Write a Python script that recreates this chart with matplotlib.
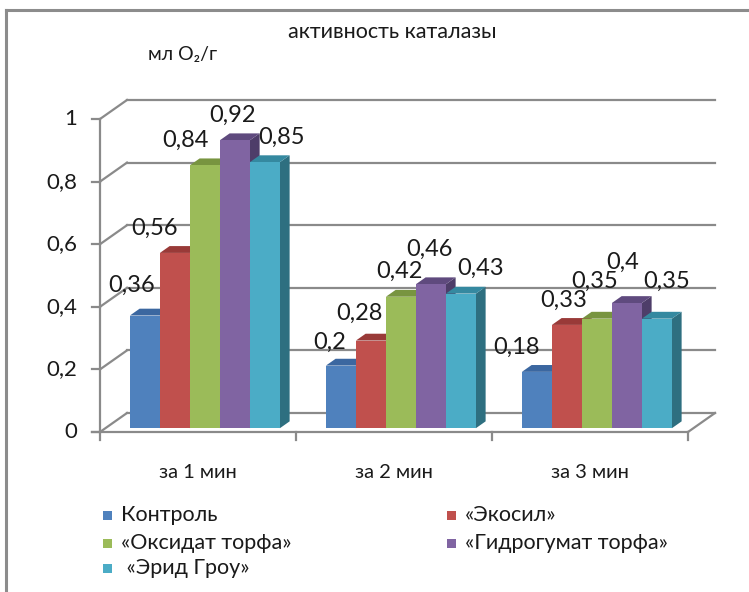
import matplotlib
matplotlib.use("Agg")
import matplotlib.pyplot as plt
from matplotlib.patches import Polygon

plt.rcParams['font.family'] = ['Lato', 'DejaVu Sans']

# ---- data ----
title = "активность каталазы"
unit_label = "мл O₂/г"
categories = ["за 1 мин", "за 2 мин", "за 3 мин"]
series_names = ["Контроль", "«Экосил»", "«Оксидат торфа»", "«Гидрогумат торфа»", " «Эрид Гроу»"]
control = [0.36, 0.20, 0.18]
ekosil = [0.56, 0.28, 0.33]
oksidat = [0.84, 0.42, 0.35]
gidrogumat = [0.92, 0.46, 0.40]
erid = [0.85, 0.43, 0.35]
y_ticks = [0, 0.2, 0.4, 0.6, 0.8, 1.0]
y_tick_labels = ["0", "0,2", "0,4", "0,6", "0,8", "1"]

series = [control, ekosil, oksidat, gidrogumat, erid]

# ---- styling ----
front_colors = ["#4F81BD", "#C0504D", "#9BBB59", "#8064A2", "#4BACC6"]
top_colors = ["#3B67A0", "#993A38", "#789440", "#5F4A7E", "#3589A0"]
side_colors = ["#2F5687", "#7E302E", "#62793A", "#4E3D69", "#2E6F80"]
grid_color = "#8A8A8A"
text_color = "#1a1a1a"

# label offsets (pixels) from the top centre of each bar's front face
label_dx = [[-13, -11, -20], [-20, -11, -3], [-19, -1, -2], [-2, -1, -4], [17, 20, 10]]
label_dy = [[30, 23, 25], [25, 27, 25], [25, 25, 37], [25, 35, 41], [25, 25, 37]]

W, H = 749, 592
fig = plt.figure(figsize=(W / 100, H / 100), dpi=100)
ax = fig.add_axes([0, 0, 1, 1])

# plot-area geometry (pixel anchors)
x0_px, cat_px = 100, 196          # front-left corner, width of a category
y0_px, unit_px = 432, 313         # zero line, pixels per 1.0
ax.set_xlim(-x0_px / cat_px, (W - x0_px) / cat_px)
ax.set_ylim(-(H - y0_px) / unit_px, y0_px / unit_px)
ax.axis("off")

px_x = 1 / cat_px
px_y = 1 / unit_px
DX, DY = 27 * px_x, 19 * px_y       # depth projection of the floor
ncat = len(categories)


def fx(px):
    return (px - x0_px) * px_x


def fy(py):
    return (y0_px - py) * px_y


lw = 1.6
# back wall gridlines, side-wall diagonals, tick marks and labels
for v, lbl in zip(y_ticks, y_tick_labels):
    ax.plot([DX, ncat + DX], [v + DY, v + DY], color=grid_color, lw=lw, zorder=1)
    ax.plot([0, DX], [v, v + DY], color=grid_color, lw=lw, zorder=1)
    ax.plot([-8 * px_x, 0], [v, v], color=grid_color, lw=lw, zorder=1)
    ax.text(-23 * px_x, v, lbl, ha="right", va="center", fontsize=16, color=text_color)
# floor right edge
ax.plot([ncat, ncat + DX], [0, DY], color=grid_color, lw=lw, zorder=1)
# front axes
ax.plot([0, 0], [0, 1], color=grid_color, lw=lw, zorder=1)
ax.plot([-8 * px_x, ncat], [0, 0], color=grid_color, lw=lw, zorder=6)
for c in range(ncat + 1):
    ax.plot([c, c], [0, -8 * px_y], color=grid_color, lw=lw, zorder=6)
for c, name in enumerate(categories):
    ax.text(c + 0.5, -40 * px_y, name, ha="center", va="center", fontsize=14.5, color=text_color)

# 3D bars
bw = 30 * px_x
d0, d1 = 0.2, 0.56
start = 0.5 - 2.5 * bw + 1.5 * px_x
z = 3
for c in range(ncat):
    for j, vals in enumerate(series):
        v = vals[c]
        xl = c + start + j * bw + d0 * DX
        xr = xl + bw
        yb = d0 * DY
        yt = v + d0 * DY
        ddx = (d1 - d0) * DX
        ddy = (d1 - d0) * DY
        front = Polygon([(xl, yb), (xr, yb), (xr, yt), (xl, yt)], closed=True,
                        facecolor=front_colors[j], edgecolor="none", zorder=z)
        top = Polygon([(xl, yt), (xr, yt), (xr + ddx, yt + ddy), (xl + ddx, yt + ddy)],
                      closed=True, facecolor=top_colors[j], edgecolor="none", zorder=z)
        side = Polygon([(xr, yb), (xr + ddx, yb + ddy), (xr + ddx, yt + ddy), (xr, yt)],
                       closed=True, facecolor=side_colors[j], edgecolor="none", zorder=z)
        for p in (side, top, front):
            ax.add_patch(p)
        z += 1
        lbl = f"{v:g}".replace(".", ",")
        ax.annotate(lbl, (xl + bw / 2, yt), xytext=(label_dx[j][c], label_dy[j][c]),
                    textcoords="offset pixels", ha="center", va="center",
                    fontsize=17, color=text_color, zorder=50)

# titles
ax.text(fx(392), fy(32), title, ha="center", va="center", fontsize=15.5, color=text_color)
ax.text(fx(183), fy(55), unit_label, ha="center", va="center", fontsize=14,
        color=text_color)

# legend
leg_rows = [515, 543, 568]
leg_cols = [103, 447]
positions = [(0, 0), (1, 0), (0, 1), (1, 1), (0, 2)]
for j, name in enumerate(series_names):
    col, row = positions[j]
    sx = fx(leg_cols[col])
    sy = fy(leg_rows[row])
    ax.add_patch(Polygon([(sx, sy - 4.5 * px_y), (sx + 9 * px_x, sy - 4.5 * px_y),
                          (sx + 9 * px_x, sy + 4.5 * px_y), (sx, sy + 4.5 * px_y)],
                         closed=True, facecolor=front_colors[j], edgecolor="none"))
    ax.text(sx + 18 * px_x, sy, name, ha="left", va="center", fontsize=15.5, color=text_color)

# chart-area frame (left and top edges)
ax.plot([fx(6), fx(6)], [fy(10), fy(H)], color="#8C8C8C", lw=2.2, zorder=1)
ax.plot([fx(6), fx(W)], [fy(10), fy(10)], color="#8C8C8C", lw=2.2, zorder=1)

fig.savefig("out.png", dpi=100)
